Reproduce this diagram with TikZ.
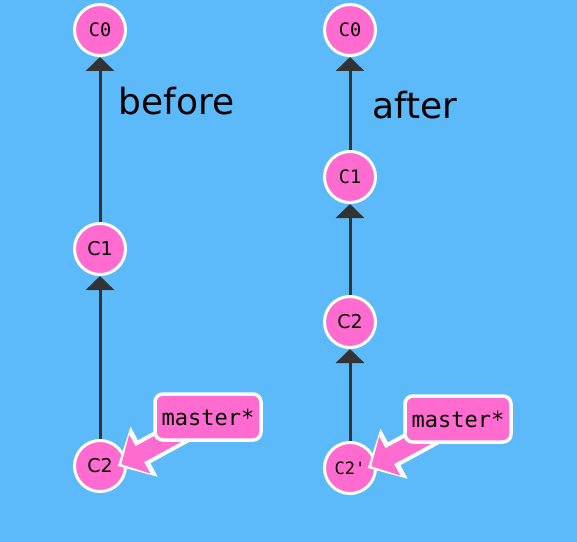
\documentclass[tikz,border=0pt]{standalone}
\usepackage{fontspec}
\setmainfont{DejaVu Sans}
\newfontfamily\commitfont[Ligatures=TeXOff]{DejaVu Sans Mono}
\usetikzlibrary{arrows.meta}
\definecolor{skyblue}{HTML}{5CBAFB}
\definecolor{hotpink}{HTML}{FF6BCF}
\definecolor{edgegray}{HTML}{333333}
\pgfdeclarelayer{front}
\pgfsetlayers{main,front}
\def\monosize{\commitfont\fontsize{18.5bp}{20bp}\selectfont}
\def\sanssize{\fontsize{19bp}{20bp}\selectfont}

\begin{document}
\begin{tikzpicture}[x=1bp,y=-1bp,
    commit/.style={circle, draw=white, fill=hotpink, line width=3bp,
      minimum size=51bp, inner sep=0pt, font=\monosize},
    sanscommit/.style={commit, font=\sanssize},
    parent/.style={draw=edgegray, line width=3bp,
      -{Triangle[length=14bp,width=28bp]}},
    branch/.style={draw=white, fill=hotpink, line width=3.5bp,
      rounded corners=8bp, minimum width=106bp, minimum height=46bp,
      inner sep=0pt, font=\commitfont\fontsize{22bp}{24bp}\selectfont},
    pointer/.style={preaction={draw=white, line width=26bp, shorten >=-10bp,
        -{Triangle[length=30bp,width=55bp]}},
      draw=hotpink, line width=18bp, shorten >=-6bp,
      -{Triangle[length=21bp,width=43bp]}},
    caption/.style={anchor=base west, font=\fontsize{36bp}{40bp}\selectfont}]

  \fill[skyblue] (0,0) rectangle (577,542);

  \node[commit] (b0) at (100,30) {C0};
  \node[sanscommit] (b1) at (100,249) {C1};
  \node[sanscommit] (b2) at (100,466) {C2};
  \node[caption] (before) at (115,115) {before};
  \draw[parent] (b1) -- (b0);
  \draw[parent] (b2) -- (b1);

  \node[commit] (a0) at (350,30) {C0};
  \node[commit] (a1) at (350,177) {C1};
  \node[sanscommit] (a2) at (350,322) {C2};
  \node[commit, font=\commitfont\fontsize{17bp}{19bp}\selectfont] (a3) at (350,468) {C2'};
  \node[caption] (after) at (369,119) {after};
  \draw[parent] (a1) -- (a0);
  \draw[parent] (a2) -- (a1);
  \draw[parent] (a3) -- (a2);

  \begin{pgfonlayer}{front}
    \node[branch] (bm) at (208,417) {master*};
    \node[branch] (am) at (458,419) {master*};
  \end{pgfonlayer}
  \draw[pointer] (bm.center) -- (b2.10);
  \draw[pointer] (am.center) -- (a3.10);
\end{tikzpicture}
\end{document}
